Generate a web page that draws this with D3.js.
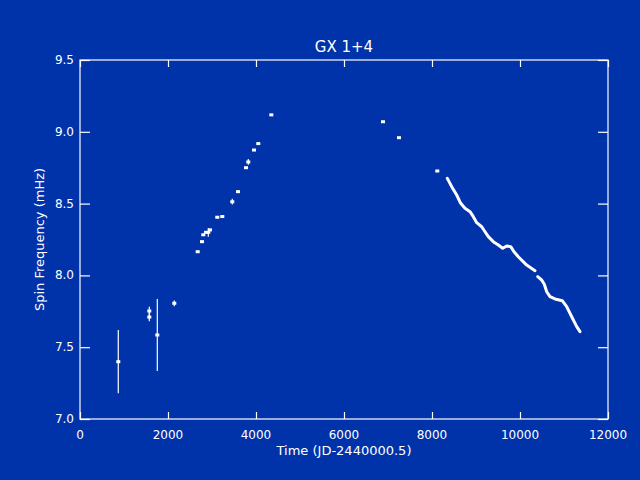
<!DOCTYPE html>
<html>
<head>
<meta charset="utf-8">
<script src="https://cdn.jsdelivr.net/npm/d3@7"></script>
<style>
  html, body { margin: 0; padding: 0; background: #0033aa; }
  svg { display: block; }
  text { font-family: "DejaVu Sans", sans-serif; fill: #fff; }
</style>
</head>
<body>
<script>
// pulse timing points (JD-2440000.5, mHz, error)
var pointTimes = [870, 1575, 1575, 1757, 2143, 2675, 2773, 2802, 2864, 2916, 2955,
                  3120, 3234, 3461, 3591, 3773, 3825, 3955, 4052, 4348, 6886, 7250, 8120];
var pointFreqs = [7.399, 7.752, 7.710, 7.585, 7.806, 8.165, 8.235, 8.283, 8.300, 8.300, 8.317,
                  8.405, 8.410, 8.513, 8.583, 8.750, 8.790, 8.873, 8.918, 9.118, 9.070, 8.959, 8.727];
var pointErrs  = [0.22, 0.03, 0.03, 0.25, 0.02, 0, 0, 0, 0, 0.03, 0,
                  0, 0, 0.02, 0.01, 0, 0.02, 0, 0, 0, 0, 0, 0];

// dense monitoring track (BATSE era), two stretches separated by a short gap
var trackTimes = [8348, 8448, 8561, 8652, 8750, 8864, 8939, 9016, 9130, 9205, 9280, 9393,
                  9507, 9607, 9698, 9789, 9864, 9961, 10152, 10341,
                  10402, 10493, 10552, 10607, 10682, 10795, 10961, 11061, 11175, 11289, 11364];
var trackFreqs = [8.676, 8.618, 8.560, 8.502, 8.467, 8.444, 8.409, 8.367, 8.339, 8.304, 8.270, 8.235,
                  8.212, 8.189, 8.205, 8.200, 8.165, 8.130, 8.072, 8.033,
                  7.991, 7.968, 7.938, 7.886, 7.852, 7.836, 7.824, 7.782, 7.712, 7.643, 7.608];
var trackSeg   = [0, 0, 0, 0, 0, 0, 0, 0, 0, 0, 0, 0,
                  0, 0, 0, 0, 0, 0, 0, 0,
                  1, 1, 1, 1, 1, 1, 1, 1, 1, 1, 1];

var xTicks = [0, 2000, 4000, 6000, 8000, 10000, 12000];
var yTicks = [7.0, 7.5, 8.0, 8.5, 9.0, 9.5];

var W = 640, H = 480;
var pLeft = 80, pRight = 608, pTop = 60, pBottom = 419;

var svg = d3.select("body").append("svg")
    .attr("width", W)
    .attr("height", H);

var x = d3.scaleLinear().domain([0, 12000]).range([pLeft, pRight]);
var y = d3.scaleLinear().domain([7.0, 9.5]).range([pBottom, pTop]);

// axes - ticks point inward like IDL
var xTickLen = 7, yTickLen = 10;
svg.append("g").attr("transform", "translate(0," + pBottom + ")")
  .call(d3.axisTop(x).tickValues(xTicks).tickSize(xTickLen).tickFormat(""));
svg.append("g").attr("transform", "translate(0," + pTop + ")")
  .call(d3.axisBottom(x).tickValues(xTicks).tickSize(xTickLen).tickFormat(""));
svg.append("g").attr("transform", "translate(" + pLeft + ",0)")
  .call(d3.axisRight(y).tickValues(yTicks).tickSize(yTickLen).tickFormat(""));
svg.append("g").attr("transform", "translate(" + pRight + ",0)")
  .call(d3.axisLeft(y).tickValues(yTicks).tickSize(yTickLen).tickFormat(""));

svg.selectAll(".domain").remove();
svg.selectAll(".tick line")
  .attr("stroke", "#fff")
  .attr("stroke-width", 1.2);

svg.append("rect")
  .attr("x", pLeft).attr("y", pTop)
  .attr("width", pRight - pLeft).attr("height", pBottom - pTop)
  .attr("fill", "none").attr("stroke", "#fff").attr("stroke-width", 1.2);

// tick labels
svg.selectAll(".xlab").data(xTicks).enter().append("text")
  .attr("x", function(d) { return x(d); })
  .attr("y", pBottom + 20)
  .attr("text-anchor", "middle")
  .attr("font-size", 12)
  .text(function(d) { return d; });

svg.selectAll(".ylab").data(yTicks).enter().append("text")
  .attr("x", pLeft - 6)
  .attr("y", function(d) { return y(d) + 4; })
  .attr("text-anchor", "end")
  .attr("font-size", 12)
  .text(function(d) { return d.toFixed(1); });

// titles
svg.append("text")
  .attr("x", (pLeft + pRight) / 2).attr("y", 52)
  .attr("text-anchor", "middle").attr("font-size", 15)
  .text("GX 1+4");

svg.append("text")
  .attr("x", (pLeft + pRight) / 2).attr("y", 455)
  .attr("text-anchor", "middle").attr("font-size", 13)
  .text("Time (JD-2440000.5)");

svg.append("text")
  .attr("transform", "translate(44," + (pTop + pBottom) / 2 + ") rotate(-90)")
  .attr("text-anchor", "middle").attr("font-size", 13)
  .text("Spin Frequency (mHz)");

// discrete measurements
var pts = pointTimes.map(function(t, i) {
  return {t: t, f: pointFreqs[i], e: pointErrs[i]};
});

svg.selectAll(".err").data(pts.filter(function(d) { return d.e > 0; }))
  .enter().append("line")
  .attr("x1", function(d) { return x(d.t); })
  .attr("x2", function(d) { return x(d.t); })
  .attr("y1", function(d) { return y(d.f - d.e); })
  .attr("y2", function(d) { return y(d.f + d.e); })
  .attr("stroke", "#fff").attr("stroke-width", 1.2);

svg.selectAll(".pt").data(pts).enter().append("rect")
  .attr("x", function(d) { return x(d.t) - 2; })
  .attr("y", function(d) { return y(d.f) - 1.5; })
  .attr("width", 4).attr("height", 3)
  .attr("fill", "#fff");

// continuous track, one path per stretch
var segs = d3.groups(trackTimes.map(function(t, i) {
  return {t: t, f: trackFreqs[i], s: trackSeg[i]};
}), function(d) { return d.s; }).map(function(g) { return g[1]; });

var line = d3.line()
  .x(function(d) { return x(d.t); })
  .y(function(d) { return y(d.f); });

svg.selectAll(".trk").data(segs).enter().append("path")
  .attr("d", line)
  .attr("fill", "none")
  .attr("stroke", "#fff")
  .attr("stroke-width", 3)
  .attr("stroke-linecap", "round")
  .attr("stroke-linejoin", "round");
</script>
</body>
</html>
